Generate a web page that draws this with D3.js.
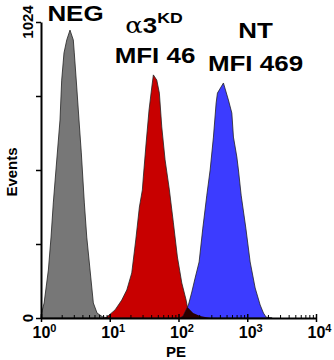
<!DOCTYPE html>
<html>
<head>
<meta charset="utf-8">
<script src="https://cdn.jsdelivr.net/npm/d3@7"></script>
<style>
  body { margin: 0; background: #fff; }
  svg { display: block; font-family: "Liberation Sans", Arial, sans-serif; }
</style>
</head>
<body>
<div id="chart"></div>
<script>
// histogram outlines: [PE, events]
const negData = [
  [1.0, 0], [1.02, 17], [1.11, 52], [1.28, 166], [1.40, 280], [1.51, 398],
  [1.65, 512], [1.89, 685], [2.00, 823], [2.16, 917], [2.37, 962], [2.64, 996],
  [2.95, 962], [3.05, 917], [3.31, 799], [3.57, 685], [3.86, 571], [4.27, 398],
  [4.63, 280], [5.17, 166], [5.77, 52], [6.54, 17], [7.99, 3], [10.1, 0]
];
const kdData = [
  [8.5, 0], [9.04, 3], [11.95, 28], [14.95, 62], [17.7, 97], [20.9, 156],
  [23.9, 270], [27.0, 384], [29.8, 443], [30.8, 488], [33.8, 605], [37.3, 720],
  [40.9, 799], [43.1, 841], [48.3, 823], [52.7, 778], [57.1, 661], [63.8, 547],
  [73.7, 443], [84.3, 329], [96.4, 211], [111.7, 121], [129, 62], [134.7, 38],
  [163, 17], [206, 7], [288, 0]
];
const ntData = [
  [105.5, 0], [116.7, 7], [139.4, 45], [156.2, 90], [174.4, 138], [199.5, 194],
  [225.8, 311], [258.2, 425], [288.4, 512], [322.1, 626], [352.6, 744],
  [368.3, 778], [450.4, 813], [532.4, 754], [596.8, 709], [629.7, 626],
  [705.8, 557], [744.6, 512], [815.2, 425], [953.9, 311], [1102, 194],
  [1303, 104], [1541, 45], [1721, 17], [1884, 3], [2304, 0]
];

const xMajor = [1, 10, 100, 1000, 10000];
const xExp = ["0", "1", "2", "3", "4"];
const xMinor = [];
for (const d of [1, 10, 100, 1000]) for (let k = 2; k <= 9; k++) xMinor.push(d * k);
const yTicks = [0, 256, 512, 768, 1024];
const yLabels = { 0: "0", 1024: "1024" };

const width = 334, height = 360;
const svg = d3.select("#chart").append("svg")
  .attr("width", width).attr("height", height);

const x = d3.scaleLog().domain([1, 10000]).range([41, 316]);
const y = d3.scaleLinear().domain([0, 1024]).range([318, 22]);

const area = d3.area()
  .x(d => x(d[0]))
  .y0(y(0))
  .y1(d => y(d[1]));

const defs = svg.append("defs");
defs.append("clipPath").attr("id", "clipKd")
  .append("path").attr("d", area(kdData));

const series = [
  { data: negData, fill: "#777777" },
  { data: kdData, fill: "#c80000" },
  { data: ntData, fill: "#3c3cff" }
];
for (const s of series) {
  svg.append("path")
    .attr("d", area(s.data))
    .attr("fill", s.fill)
    .attr("stroke", "#222")
    .attr("stroke-width", 0.8)
    .attr("stroke-linejoin", "round");
}
// overlap of the red and blue populations shows dark
svg.append("path")
  .attr("d", area(ntData))
  .attr("fill", "#2a0000")
  .attr("clip-path", "url(#clipKd)");
svg.append("path")
  .attr("d", area(negData))
  .attr("fill", "#2a0000")
  .attr("clip-path", "url(#clipKd)");

// y axis
const yAxis = svg.append("g")
  .attr("transform", "translate(41,0)")
  .call(d3.axisLeft(y).tickValues(yTicks).tickSize(5).tickSizeOuter(0).tickFormat(""));
yAxis.select(".domain").attr("stroke-width", 2);
yAxis.selectAll(".tick line").attr("stroke-width", 1.5);
for (const v of yTicks) {
  if (!yLabels[v]) continue;
  svg.append("text")
    .attr("transform", `translate(33,${y(v)}) rotate(-90)`)
    .attr("text-anchor", "middle")
    .attr("font-size", 15).attr("font-weight", "bold")
    .text(yLabels[v]);
}
svg.append("text")
  .attr("transform", `translate(17,172) rotate(-90)`)
  .attr("text-anchor", "middle")
  .attr("font-size", 15).attr("font-weight", "bold")
  .text("Events");

// x axis
const xAxis = svg.append("g")
  .attr("transform", "translate(0,318)")
  .call(d3.axisBottom(x).tickValues(xMajor).tickSize(4).tickSizeOuter(0).tickFormat(""));
xAxis.select(".domain").attr("stroke-width", 2);
xAxis.selectAll(".tick line").attr("stroke-width", 1.5).attr("y1", -4);
svg.append("g")
  .attr("transform", "translate(0,318)")
  .call(d3.axisTop(x).tickValues(xMinor).tickSize(3).tickFormat(""))
  .call(g => g.select(".domain").remove());

xMajor.forEach((v, i) => {
  const t = svg.append("text")
    .attr("x", x(v) - 8.5)
    .attr("y", 338)
    .attr("font-size", 16).attr("font-weight", "bold");
  t.append("tspan").text("10");
  t.append("tspan").attr("font-size", 11).attr("dy", -6).text(xExp[i]);
});
svg.append("text")
  .attr("x", 176).attr("y", 357)
  .attr("text-anchor", "middle")
  .attr("font-size", 15).attr("font-weight", "bold")
  .text("PE");

// population labels (wide bold lettering)
function label(cx, by, build) {
  const g = svg.append("g").attr("transform", `translate(${cx},${by}) scale(1.18,1)`);
  const t = g.append("text").attr("text-anchor", "middle")
    .attr("font-size", 22).attr("font-weight", "bold");
  build(t);
}
label(75.5, 21, t => t.text("NEG"));
label(154, 33, t => {
  t.append("tspan").attr("font-weight", "normal").attr("font-family", "DejaVu Serif, serif").text("α");
  t.append("tspan").text("3");
  t.append("tspan").attr("font-size", 15).attr("dy", -10).text("KD");
});
label(155, 63, t => t.text("MFI 46"));
label(255.5, 38, t => t.text("NT"));
label(255.5, 71, t => t.text("MFI 469"));
</script>
</body>
</html>
